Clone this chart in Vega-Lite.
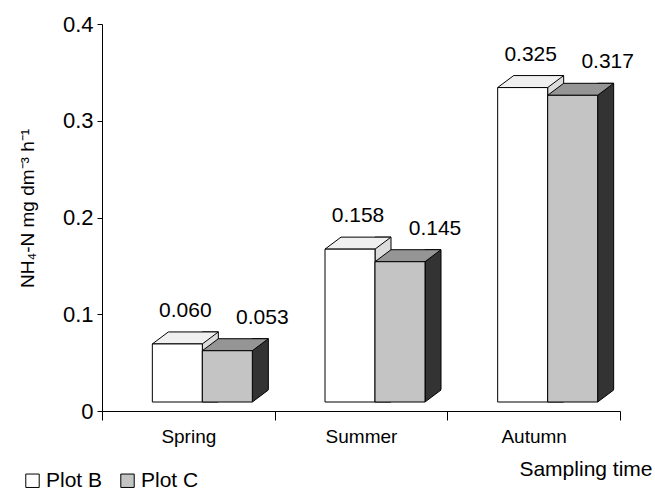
{
  "$schema": "https://vega.github.io/schema/vega-lite/v6.json",
  "width": 518,
  "height": 387,
  "autosize": "none",
  "padding": {"left": 102, "top": 24, "right": 35, "bottom": 79},
  "background": "white",
  "config": {"view": {"stroke": null}, "font": "Liberation Sans"},
  "data": {"values": [
    {"season": "Spring", "plot": "Plot B", "value": 0.060},
    {"season": "Spring", "plot": "Plot C", "value": 0.053},
    {"season": "Summer", "plot": "Plot B", "value": 0.158},
    {"season": "Summer", "plot": "Plot C", "value": 0.145},
    {"season": "Autumn", "plot": "Plot B", "value": 0.325},
    {"season": "Autumn", "plot": "Plot C", "value": 0.317}
  ]},
  "encoding": {
    "x": {
      "field": "season", "type": "nominal", "sort": ["Spring", "Summer", "Autumn"],
      "scale": {"paddingInner": 0, "paddingOuter": 0},
      "axis": {
        "title": "Sampling time", "tickBand": "extent", "labelAngle": 0,
        "labelFontSize": 19, "labelColor": "black", "labelPadding": 7,
        "tickSize": 9, "tickColor": "black", "domainColor": "black",
        "titleFontSize": 21, "titleFontWeight": "normal", "titleColor": "black",
        "titleX": 550, "titleY": 64, "titleAlign": "right", "titleBaseline": "alphabetic"
      }
    },
    "y": {
      "field": "value", "type": "quantitative", "scale": {"domain": [0, 0.4]},
      "axis": {
        "title": "NH₄-N mg dm⁻³ h⁻¹", "values": [0, 0.1, 0.2, 0.3, 0.4],
        "labelExpr": "datum.value == 0 ? '0' : format(datum.value, '.1f')",
        "grid": false, "tickSize": 5, "tickColor": "black", "domainColor": "black",
        "labelFontSize": 22, "labelColor": "black", "labelPadding": 4,
        "titleFontSize": 19, "titleFontWeight": "normal", "titleColor": "black",
        "titleX": -75, "titleY": 184, "titleAngle": -90, "titleAlign": "center", "titleBaseline": "middle"
      }
    }
  },
  "layer": [
    {
      "transform": [{"filter": "datum.plot == 'Plot B'"}],
      "mark": {"type": "bar", "width": 16, "xOffset": 22, "yOffset": -21, "y2Offset": -9, "fill": "#dcdcdc", "stroke": "black", "strokeWidth": 1},
      "encoding": {"y2": {"datum": 0}}
    },
    {
      "transform": [{"filter": "datum.plot == 'Plot C'"}],
      "mark": {"type": "bar", "width": 16, "xOffset": 72, "yOffset": -21, "y2Offset": -9, "fill": "#333333", "stroke": "black", "strokeWidth": 1},
      "encoding": {"y2": {"datum": 0}}
    },
    {
      "transform": [{"filter": "datum.plot == 'Plot C'"}],
      "mark": {"type": "point", "shape": "M -1.4 1 L 18 1 L 18 -13.5 Z", "size": 4, "filled": true, "fill": "white", "strokeWidth": 0, "opacity": 1, "xOffset": 64, "yOffset": -9},
      "encoding": {"y": {"datum": 0}}
    },
    {
      "transform": [{"filter": "datum.plot == 'Plot C'"}],
      "mark": {"type": "point", "shape": "M 0 0 L 16 -12", "size": 4, "filled": false, "stroke": "black", "strokeWidth": 1, "opacity": 1, "xOffset": 64, "yOffset": -9},
      "encoding": {"y": {"datum": 0}}
    },
    {
      "transform": [{"filter": "datum.plot == 'Plot B'"}],
      "mark": {"type": "point", "shape": "M -25 0 L 25 0 L 41 -12 L -9 -12 Z", "size": 4, "filled": true, "fill": "#f0f0f0", "stroke": "black", "strokeWidth": 1, "opacity": 1, "xOffset": -11, "yOffset": -9}
    },
    {
      "transform": [{"filter": "datum.plot == 'Plot C'"}],
      "mark": {"type": "point", "shape": "M -25 0 L 25 0 L 41 -12 L -9 -12 Z", "size": 4, "filled": true, "fill": "#959595", "stroke": "black", "strokeWidth": 1, "opacity": 1, "xOffset": 39, "yOffset": -9}
    },
    {
      "transform": [{"filter": "datum.plot == 'Plot B'"}],
      "mark": {"type": "bar", "width": 50, "xOffset": -11, "yOffset": -9, "y2Offset": -9, "stroke": "black", "strokeWidth": 1},
      "encoding": {
        "y2": {"datum": 0},
        "fill": {
          "field": "plot", "type": "nominal",
          "scale": {"domain": ["Plot B", "Plot C"], "range": ["white", "#c4c4c4"]},
          "legend": {
            "title": null, "orient": "none", "legendX": -80, "legendY": 446, "direction": "horizontal",
            "symbolType": "square", "symbolSize": 180, "symbolStrokeColor": "black", "symbolStrokeWidth": 1,
            "labelFontSize": 21, "labelColor": "black", "labelOffset": 3, "columnPadding": 14, "padding": 0
          }
        }
      }
    },
    {
      "transform": [{"filter": "datum.plot == 'Plot C'"}],
      "mark": {"type": "bar", "width": 50, "xOffset": 39, "yOffset": -9, "y2Offset": -9, "stroke": "black", "strokeWidth": 1},
      "encoding": {
        "y2": {"datum": 0},
        "fill": {"field": "plot", "type": "nominal"}
      }
    },
    {
      "transform": [{"filter": "datum.plot == 'Plot B'"}],
      "mark": {"type": "text", "fontSize": 21, "color": "black", "xOffset": -3, "yOffset": -36, "baseline": "alphabetic", "align": "center"},
      "encoding": {"text": {"field": "value", "type": "quantitative", "format": ".3f"}}
    },
    {
      "transform": [{"filter": "datum.plot == 'Plot C'"}],
      "mark": {"type": "text", "fontSize": 21, "color": "black", "xOffset": 74, "yOffset": -36, "baseline": "alphabetic", "align": "center"},
      "encoding": {"text": {"field": "value", "type": "quantitative", "format": ".3f"}}
    }
  ]
}
